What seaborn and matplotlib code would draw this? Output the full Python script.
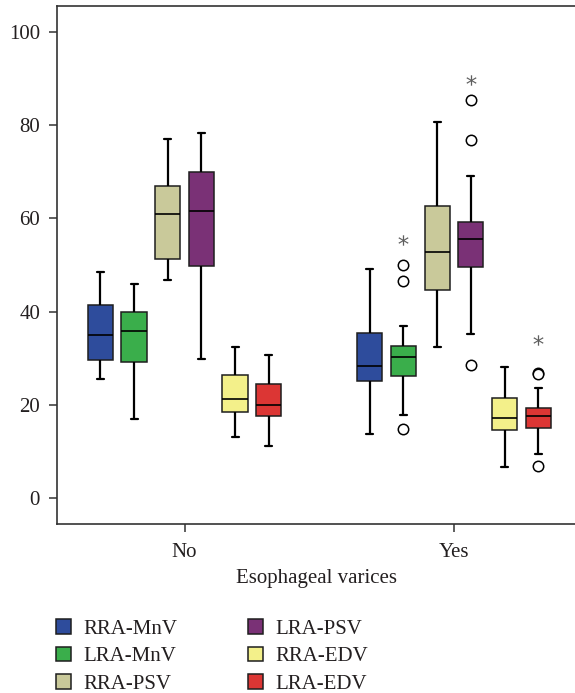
import numpy as np
import pandas as pd
import matplotlib
matplotlib.use("Agg")
import matplotlib.pyplot as plt
import seaborn as sns

# ---------------- data ----------------
groups = ["No", "Yes"]
measures = ["RRA-MnV", "LRA-MnV", "RRA-PSV", "LRA-PSV", "RRA-EDV", "LRA-EDV"]
colors = ["#2E4C9C", "#3AAE4B", "#C9C99A", "#7A3176", "#F3F08A", "#DC3634"]

# five-number summaries per measure (lower whisker, Q1, median, Q3, upper whisker)
no_low = [25.5, 17.0, 46.8, 29.9, 13.1, 11.2]
no_q1 = [29.6, 29.2, 51.3, 49.7, 18.5, 17.5]
no_med = [34.9, 35.8, 61.0, 61.5, 21.3, 20.0]
no_q3 = [41.5, 40.0, 66.9, 70.0, 26.4, 24.5]
no_high = [48.6, 46.0, 77.1, 78.3, 32.3, 30.7]

yes_low = [13.7, 17.9, 32.5, 35.2, 6.7, 9.4]
yes_q1 = [25.1, 26.2, 44.6, 49.6, 14.6, 15.0]
yes_med = [28.4, 30.2, 52.8, 55.5, 17.1, 17.5]
yes_q3 = [35.5, 32.6, 62.6, 59.3, 21.5, 19.3]
yes_high = [49.1, 36.9, 80.7, 69.2, 28.2, 23.7]

# outliers (circles)
outlier_group = ["Yes"] * 9
outlier_measure = ["LRA-MnV"] * 3 + ["LRA-PSV"] * 3 + ["LRA-EDV"] * 3
outlier_value = [49.9, 46.5, 14.8, 85.4, 76.9, 28.6, 26.9, 26.6, 6.9]

# extreme values (asterisks)
extreme_group = ["Yes", "Yes", "Yes"]
extreme_measure = ["LRA-MnV", "LRA-PSV", "LRA-EDV"]
extreme_value = [55.4, 89.7, 34.0]

# ---------------- tables ----------------
summaries = {
    "No": [no_low, no_q1, no_med, no_q3, no_high],
    "Yes": [yes_low, yes_q1, yes_med, yes_q3, yes_high],
}
rows = []
for g in groups:
    for i, m in enumerate(measures):
        for stat in summaries[g]:
            rows.append({"group": g, "measure": m, "value": stat[i]})
box_df = pd.DataFrame(rows)

out_df = pd.DataFrame({"group": outlier_group, "measure": outlier_measure,
                       "value": outlier_value})
out_df["rank"] = out_df.groupby(["group", "measure"]).cumcount()
ext_df = pd.DataFrame({"group": extreme_group, "measure": extreme_measure,
                       "value": extreme_value})

palette = dict(zip(measures, colors))

# ---------------- style ----------------
sns.set_theme(style="ticks")
plt.rcParams["font.family"] = ["Liberation Serif", "DejaVu Serif"]
TXT = "#231F20"
FS = 15
plt.rcParams["text.color"] = TXT
plt.rcParams["axes.labelcolor"] = TXT
plt.rcParams["xtick.color"] = "#333333"
plt.rcParams["ytick.color"] = "#333333"
plt.rcParams["xtick.labelcolor"] = TXT
plt.rcParams["ytick.labelcolor"] = TXT

fig = plt.figure(figsize=(5.75, 6.93), dpi=100)
ax = fig.add_axes([57.4 / 575, 169 / 693, 1 - 57.4 / 575, 518 / 693])

W = 0.75
sns.boxplot(data=box_df, x="group", y="value", hue="measure",
            order=groups, hue_order=measures, palette=palette,
            width=W, gap=0.25, whis=(0, 100), showfliers=False,
            saturation=1, linecolor="#1e1e1e", linewidth=1.1,
            capwidths=0.026,
            whiskerprops=dict(color="black", linewidth=1.6),
            capprops=dict(color="black", linewidth=1.6),
            medianprops=dict(color="black", linewidth=1.2),
            ax=ax)

for r, sub in out_df.groupby("rank"):
    sns.pointplot(data=sub, x="group", y="value", hue="measure",
                  order=groups, hue_order=measures, palette=palette,
                  dodge=W * 5 / 6, errorbar=None, markers="o",
                  linestyles="none", markerfacecolor="white",
                  markeredgecolor="black", markersize=7.5,
                  markeredgewidth=1.1, legend=False, ax=ax)

sns.pointplot(data=ext_df, x="group", y="value", hue="measure",
              order=groups, hue_order=measures,
              palette=["#5f5f5f"] * len(measures),
              dodge=W * 5 / 6, errorbar=None, markers="$*$",
              linestyles="none", markersize=7.5, markeredgewidth=0,
              legend=False, ax=ax)

ax.set_xlim(-0.472, 1.449)
ax.set_ylim(-5.6, 105.6)
ax.set_yticks(np.arange(0, 101, 20))
ax.set_xlabel("Esophageal varices", fontsize=FS, labelpad=4.5)
ax.set_ylabel("")
for side in ["left", "bottom", "top"]:
    ax.spines[side].set_color("#333333")
    ax.spines[side].set_linewidth(1.2)
    ax.spines[side].set_visible(True)
ax.spines["right"].set_visible(False)
ax.tick_params(axis="both", labelsize=FS, length=5.5, width=1.1)
ax.tick_params(axis="y", pad=7)
ax.tick_params(axis="x", pad=8.5)

sns.move_legend(ax, "upper left", bbox_to_anchor=(56 / 575, 1 - 619 / 693),
                bbox_transform=fig.transFigure, ncol=2, frameon=False,
                title=None, fontsize=FS, handlelength=0.7, handleheight=0.7,
                handletextpad=0.6, columnspacing=3.4, labelspacing=0.38,
                borderaxespad=0, borderpad=0)

fig.savefig("out.png", dpi=100)
